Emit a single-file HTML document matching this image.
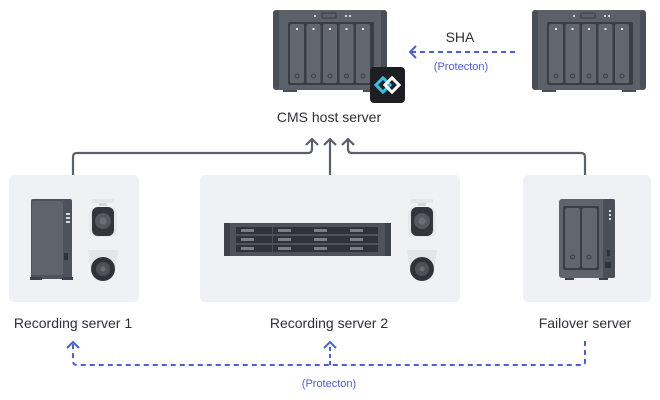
<!DOCTYPE html>
<html><head><meta charset="utf-8"><style>
html,body{margin:0;padding:0;background:#fff;}
svg{display:block;}
text{font-family:"Liberation Sans",sans-serif;}
</style></head><body>
<svg width="660" height="400" viewBox="0 0 660 400" xmlns="http://www.w3.org/2000/svg">
<defs>
<g id="nas5">
  <rect x="0" y="0" width="114" height="80" rx="5" fill="#5c6068"/>
  <rect x="0" y="0" width="6" height="80" rx="3" fill="#4a4e56"/>
  <rect x="108" y="0" width="6" height="80" rx="3" fill="#4a4e56"/>
  <rect x="15" y="12" width="86" height="63" rx="2" fill="#3a3d44"/>
  <rect x="17" y="14" width="14" height="59" rx="1.5" fill="#62666e"/>
  <rect x="33.5" y="14" width="14" height="59" rx="1.5" fill="#62666e"/>
  <rect x="50" y="14" width="14" height="59" rx="1.5" fill="#62666e"/>
  <rect x="66.5" y="14" width="14" height="59" rx="1.5" fill="#62666e"/>
  <rect x="83" y="14" width="14" height="59" rx="1.5" fill="#62666e"/>
  <g fill="#e8e9ec"><rect x="23" y="18" width="2" height="2"/><rect x="39.5" y="18" width="2" height="2"/><rect x="56" y="18" width="2" height="2"/><rect x="72.5" y="18" width="2" height="2"/><rect x="89" y="18" width="2" height="2"/></g>
  <g fill="none" stroke="#3a3d44" stroke-width="1"><circle cx="24" cy="66" r="2"/><circle cx="40.5" cy="66" r="2"/><circle cx="57" cy="66" r="2"/><circle cx="73.5" cy="66" r="2"/><circle cx="90" cy="66" r="2"/></g>
  <rect x="49" y="3" width="14" height="5" fill="none" stroke="#3a3d44" stroke-width="1"/>
  <rect x="41" y="5" width="2" height="2" fill="#d0d2d6"/><rect x="72" y="5" width="2" height="2" fill="#d0d2d6"/><rect x="76" y="5" width="2" height="2" fill="#d0d2d6"/>
  <rect x="10" y="80" width="14" height="2" fill="#4a4e56"/><rect x="90" y="80" width="14" height="2" fill="#4a4e56"/>
</g>
<g id="bullet">
  <rect x="4" y="0" width="22" height="4" rx="1" fill="#e4e5e8"/>
  <rect x="11" y="4" width="8" height="3" fill="#d4d6da"/>
  <rect x="1" y="8" width="28" height="30" rx="7" fill="#e6e7ea"/>
  <rect x="4" y="8" width="22" height="29" rx="6" fill="#32353c"/>
  <circle cx="15" cy="22" r="8" fill="#55585f"/><circle cx="15" cy="22" r="3.5" fill="#6b6e75"/>
</g>
<g id="dome">
  <path d="M2 2 H32 L30 18 Q17 28 4 18 Z" fill="#e4e5e8"/>
  <circle cx="17" cy="21" r="12" fill="#2f3239"/>
  <circle cx="17" cy="21" r="7" fill="#4e5158"/><circle cx="17" cy="21" r="2.5" fill="#6b6e75"/>
</g>
</defs>

<use href="#nas5" x="273" y="10"/>
<use href="#nas5" x="532" y="10"/>
<rect x="370" y="67" width="35" height="36" rx="4" fill="#1d1e22"/>
<g fill="none" stroke-width="3">
<rect x="378" y="80" width="10" height="10" transform="rotate(45 383 85)" stroke="#2fc1e6"/>
<rect x="387" y="80" width="10" height="10" transform="rotate(45 392 85)" stroke="#ffffff"/>
</g>

<text x="460" y="42" font-size="14" fill="#2c3038" text-anchor="middle">SHA</text>
<line x1="411" y1="52" x2="515" y2="52" stroke="#4a5ee0" stroke-width="2" stroke-dasharray="5,4"/>
<polyline points="416,46 410,52 416,58" fill="none" stroke="#4a5ee0" stroke-width="2"/>
<text x="461" y="70" font-size="11" fill="#4a5ee0" text-anchor="middle">(Protecton)</text>

<text x="329" y="122" font-size="14" fill="#2c3038" text-anchor="middle">CMS host server</text>

<g fill="none" stroke="#5b606a" stroke-width="2.2">
<path d="M73 175 V157 Q73 153 77 153 H308 Q312 153 312 149 V139"/>
<path d="M330 175 V139"/>
<path d="M585 175 V157 Q585 153 581 153 H352 Q348 153 348 149 V139"/>
<polyline points="306,145 312,139 318,145"/>
<polyline points="324,145 330,139 336,145"/>
<polyline points="342,145 348,139 354,145"/>
</g>

<rect x="9" y="175" width="130" height="127" rx="5" fill="#f0f1f4"/>
<rect x="200" y="175" width="260" height="127" rx="5" fill="#f0f1f4"/>
<rect x="523" y="175" width="128" height="127" rx="5" fill="#f0f1f4"/>

<rect x="31" y="199" width="41" height="80" rx="2" fill="#4e525a"/>
<rect x="32" y="201" width="31" height="74" rx="2" fill="#5f636b"/>
<rect x="66" y="213" width="4" height="2" fill="#d8dade"/><rect x="66" y="217" width="4" height="2" fill="#d8dade"/><rect x="66" y="221" width="4" height="2" fill="#d8dade"/>
<rect x="64" y="253" width="4" height="7" fill="#2f3239"/>
<rect x="30" y="277" width="12" height="3" fill="#3e4148"/><rect x="62" y="277" width="11" height="3" fill="#3e4148"/>
<use href="#bullet" x="88" y="199"/>
<use href="#dome" x="86" y="248"/>

<rect x="224" y="223" width="167" height="33" rx="2" fill="#4e525a"/>
<rect x="224" y="223" width="6" height="33" fill="#3e4148"/><rect x="385" y="223" width="6" height="33" fill="#3e4148"/>
<g fill="#2f3239">
<rect x="236" y="227" width="36" height="7"/><rect x="273" y="227" width="36" height="7"/><rect x="309" y="227" width="36" height="7"/><rect x="345" y="227" width="33" height="7"/>
<rect x="236" y="236" width="36" height="7"/><rect x="273" y="236" width="36" height="7"/><rect x="309" y="236" width="36" height="7"/><rect x="345" y="236" width="33" height="7"/>
<rect x="236" y="245" width="36" height="7"/><rect x="273" y="245" width="36" height="7"/><rect x="309" y="245" width="36" height="7"/><rect x="345" y="245" width="33" height="7"/>
</g>
<g fill="#7a7e86">
<rect x="241" y="229" width="13" height="3"/><rect x="278" y="229" width="13" height="3"/><rect x="314" y="229" width="13" height="3"/><rect x="350" y="229" width="13" height="3"/>
<rect x="241" y="238" width="13" height="3"/><rect x="278" y="238" width="13" height="3"/><rect x="314" y="238" width="13" height="3"/><rect x="350" y="238" width="13" height="3"/>
<rect x="241" y="247" width="13" height="3"/><rect x="278" y="247" width="13" height="3"/><rect x="314" y="247" width="13" height="3"/><rect x="350" y="247" width="13" height="3"/>
</g>
<use href="#bullet" x="407" y="199"/>
<use href="#dome" x="405" y="248"/>

<rect x="559" y="199" width="56" height="79" rx="3" fill="#5f636b"/>
<rect x="603" y="199" width="12" height="79" rx="2" fill="#4a4e56"/>
<rect x="563" y="206" width="36" height="64" rx="2" fill="#3a3d44"/>
<rect x="565" y="208" width="15" height="60" rx="2" fill="#62666e"/>
<rect x="582" y="208" width="15" height="60" rx="2" fill="#62666e"/>
<circle cx="572.5" cy="257" r="2" fill="none" stroke="#3a3d44"/><circle cx="589" cy="257" r="2" fill="none" stroke="#3a3d44"/>
<rect x="609" y="210" width="2" height="2" fill="#d8dade"/><rect x="609" y="214" width="2" height="2" fill="#d8dade"/><rect x="609" y="218" width="2" height="2" fill="#d8dade"/>
<rect x="607" y="250" width="3" height="6" fill="#2f3239"/><rect x="605" y="262" width="6" height="6" fill="#2f3239"/>
<rect x="565" y="278" width="9" height="2" fill="#3e4148"/><rect x="599" y="278" width="9" height="2" fill="#3e4148"/>

<text x="73" y="328" font-size="14" fill="#2c3038" text-anchor="middle">Recording server 1</text>
<text x="329" y="328" font-size="14" fill="#2c3038" text-anchor="middle">Recording server 2</text>
<text x="585" y="328" font-size="14" fill="#2c3038" text-anchor="middle">Failover server</text>

<g fill="none" stroke="#4a5ee0" stroke-width="2">
<path d="M585 341 V362 Q585 365 582 365 H77 Q73 365 73 361 V344" stroke-dasharray="5,4"/>
<path d="M330 365 V345" stroke-dasharray="4,3"/>
<polyline points="67,348 73,342 79,348"/>
<polyline points="324,348 330,342 336,348"/>
</g>
<text x="329" y="387" font-size="11" fill="#4a5ee0" text-anchor="middle">(Protecton)</text>
</svg>
</body></html>
